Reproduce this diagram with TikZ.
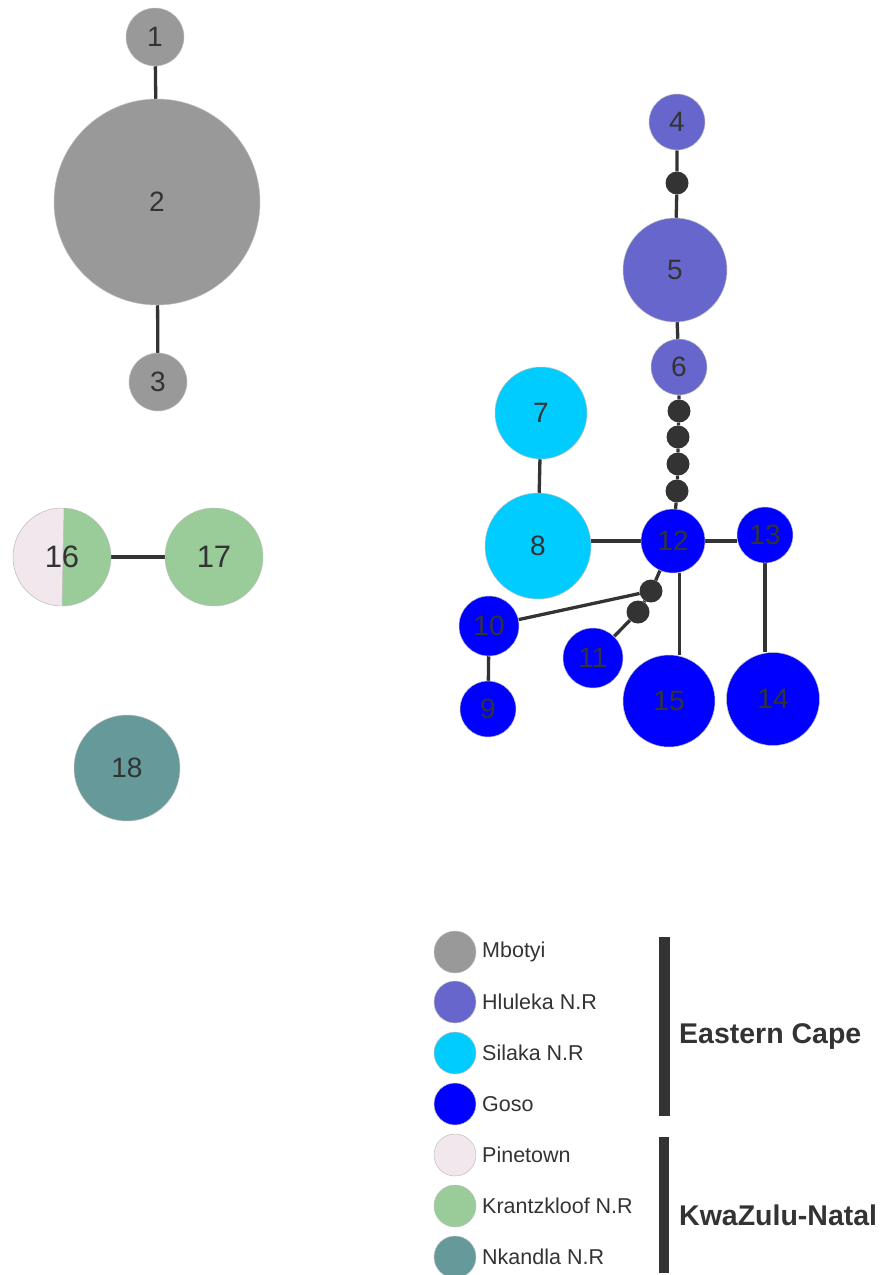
\documentclass[tikz,border=0pt]{standalone}
\usepackage{fontspec}
\setmainfont{Liberation Sans}
\usetikzlibrary{backgrounds}
\definecolor{mbotyi}{HTML}{999999}
\definecolor{hluleka}{HTML}{6666CC}
\definecolor{silaka}{HTML}{00CCFF}
\definecolor{goso}{HTML}{0000FF}
\definecolor{pinetown}{HTML}{F1E7EC}
\definecolor{krantz}{HTML}{99CC99}
\definecolor{nkandla}{HTML}{669999}
\definecolor{ink}{HTML}{333333}
\tikzset{
  hap/.style={circle, inner sep=0pt, draw=black!25, line width=0.5pt, text=ink,
    font=\fontsize{28}{28}\selectfont},
  mv/.style={circle, inner sep=0pt, fill=ink, minimum size=23pt},
  link/.style={draw=ink, line width=3.3pt},
  key/.style={circle, inner sep=0pt, draw=black!25, line width=0.5pt, minimum size=42pt},
  keytext/.style={anchor=west, text=ink, inner sep=0pt, font=\fontsize{21.5}{21.5}\selectfont},
  region/.style={anchor=west, text=ink, inner sep=0pt, font=\bfseries\fontsize{28.5}{28.5}\selectfont},
}
\begin{document}
\begin{tikzpicture}[x=1pt, y=-1pt]
\useasboundingbox (0,0) rectangle (880,1275);

% Mbotyi cluster
\node[hap, fill=mbotyi, minimum size=58pt]  (n1) at (155,37) {1};
\node[hap, fill=mbotyi, minimum size=206pt] (n2) at (157,202) {2};
\node[hap, fill=mbotyi, minimum size=58pt]  (n3) at (158,382) {3};

% Hluleka chain
\node[hap, fill=hluleka, minimum size=56pt]  (n4) at (677,122) {4};
\node[mv] (m1) at (677,183) {};
\node[hap, fill=hluleka, minimum size=104pt] (n5) at (675,270) {5};
\node[hap, fill=hluleka, minimum size=56pt]  (n6) at (679,367) {6};
\node[mv] (m2) at (679,411) {};
\node[mv] (m3) at (678,437) {};
\node[mv] (m4) at (678,464) {};
\node[mv] (m5) at (677,491) {};

% Silaka
\node[hap, fill=silaka, minimum size=92pt]  (n7) at (541,413) {7};
\node[hap, fill=silaka, minimum size=106pt] (n8) at (538,546) {8};

% Goso
\node[hap, fill=goso, minimum size=64pt] (n12) at (673,541) {12};
\node[hap, fill=goso, minimum size=56pt] (n13) at (765,535) {13};
\node[hap, fill=goso, minimum size=60pt] (n10) at (489,626) {10};
\node[hap, fill=goso, minimum size=56pt] (n9)  at (488,709) {9};
\node[hap, fill=goso, minimum size=60pt] (n11) at (593,658) {11};
\node[hap, fill=goso, minimum size=92pt] (n15) at (669,701) {15};
\node[hap, fill=goso, minimum size=93pt] (n14) at (773,699) {14};
\node[mv] (m6) at (651,591) {};
\node[mv] (m7) at (638,612) {};

% KwaZulu-Natal: shared haplotype 16 split between Pinetown and Krantzkloof
\fill[krantz] (62,557) circle (49);
\begin{scope}
  \clip (62,557) circle (49);
  \fill[pinetown] (0,500) -- (64,507) -- (62,607) -- (0,615) -- cycle;
\end{scope}
\draw[black!25, line width=0.5pt] (64,508) -- (62,606);
\node[hap, minimum size=98pt, font=\fontsize{31}{31}\selectfont] (n16) at (62,557) {16};
\node[hap, fill=krantz, minimum size=98pt, font=\fontsize{31}{31}\selectfont] (n17) at (214,557) {17};
\node[hap, fill=nkandla, minimum size=106pt] (n18) at (127,768) {18};

% Connectors
\begin{scope}[on background layer]
  \draw[link] (n1) -- (n2);
  \draw[link] (n2) -- (n3);
  \draw[link] (n4) -- (m1) -- (n5);
  \draw[link] (n5) -- (n6);
  \draw[link] (n6) -- (m2) -- (m3) -- (m4) -- (m5) -- (n12);
  \draw[link] (n7) -- (n8);
  \draw[link] (n8.east |- n12) -- (n12);
  \draw[link] (n12) -- (n12 -| n13.west);
  \draw[link] (n13.south) -- (n13.south |- n14.north);
  \draw[link] (n12.-79) -- (n12.-79 |- n15.north);
  \draw[link] (n12) -- (m6) -- (m7) -- (n11);
  \draw[link] (n10) -- (m6);
  \draw[link] (n10) -- (n9);
  \draw[link] (n16) -- (n17);
\end{scope}

% Legend
\node[key, fill=mbotyi]   (k1) at (455,952) {};
\node[key, fill=hluleka]  (k2) at (455,1002) {};
\node[key, fill=silaka]   (k3) at (455,1053) {};
\node[key, fill=goso]     (k4) at (455,1104) {};
\node[key, fill=pinetown] (k5) at (455,1155) {};
\node[key, fill=krantz]   (k6) at (455,1206) {};
\node[key, fill=nkandla]  (k7) at (455,1257) {};
\node[keytext] (t1) at (482,952)  {Mbotyi};
\node[keytext] (t2) at (482,1002) {Hluleka N.R};
\node[keytext] (t3) at (482,1053) {Silaka N.R};
\node[keytext] (t4) at (482,1104) {Goso};
\node[keytext] (t5) at (482,1155) {Pinetown};
\node[keytext] (t6) at (482,1206) {Krantzkloof N.R};
\node[keytext] (t7) at (482,1257) {Nkandla N.R};

\fill[ink] (659,937) rectangle (670,1116);
\fill[ink] (659,1137) rectangle (669,1273);
\node[region] (ec)  at (679,1036) {Eastern Cape};
\node[region] (kzn) at (679,1215) {KwaZulu-Natal};
\end{tikzpicture}
\end{document}
